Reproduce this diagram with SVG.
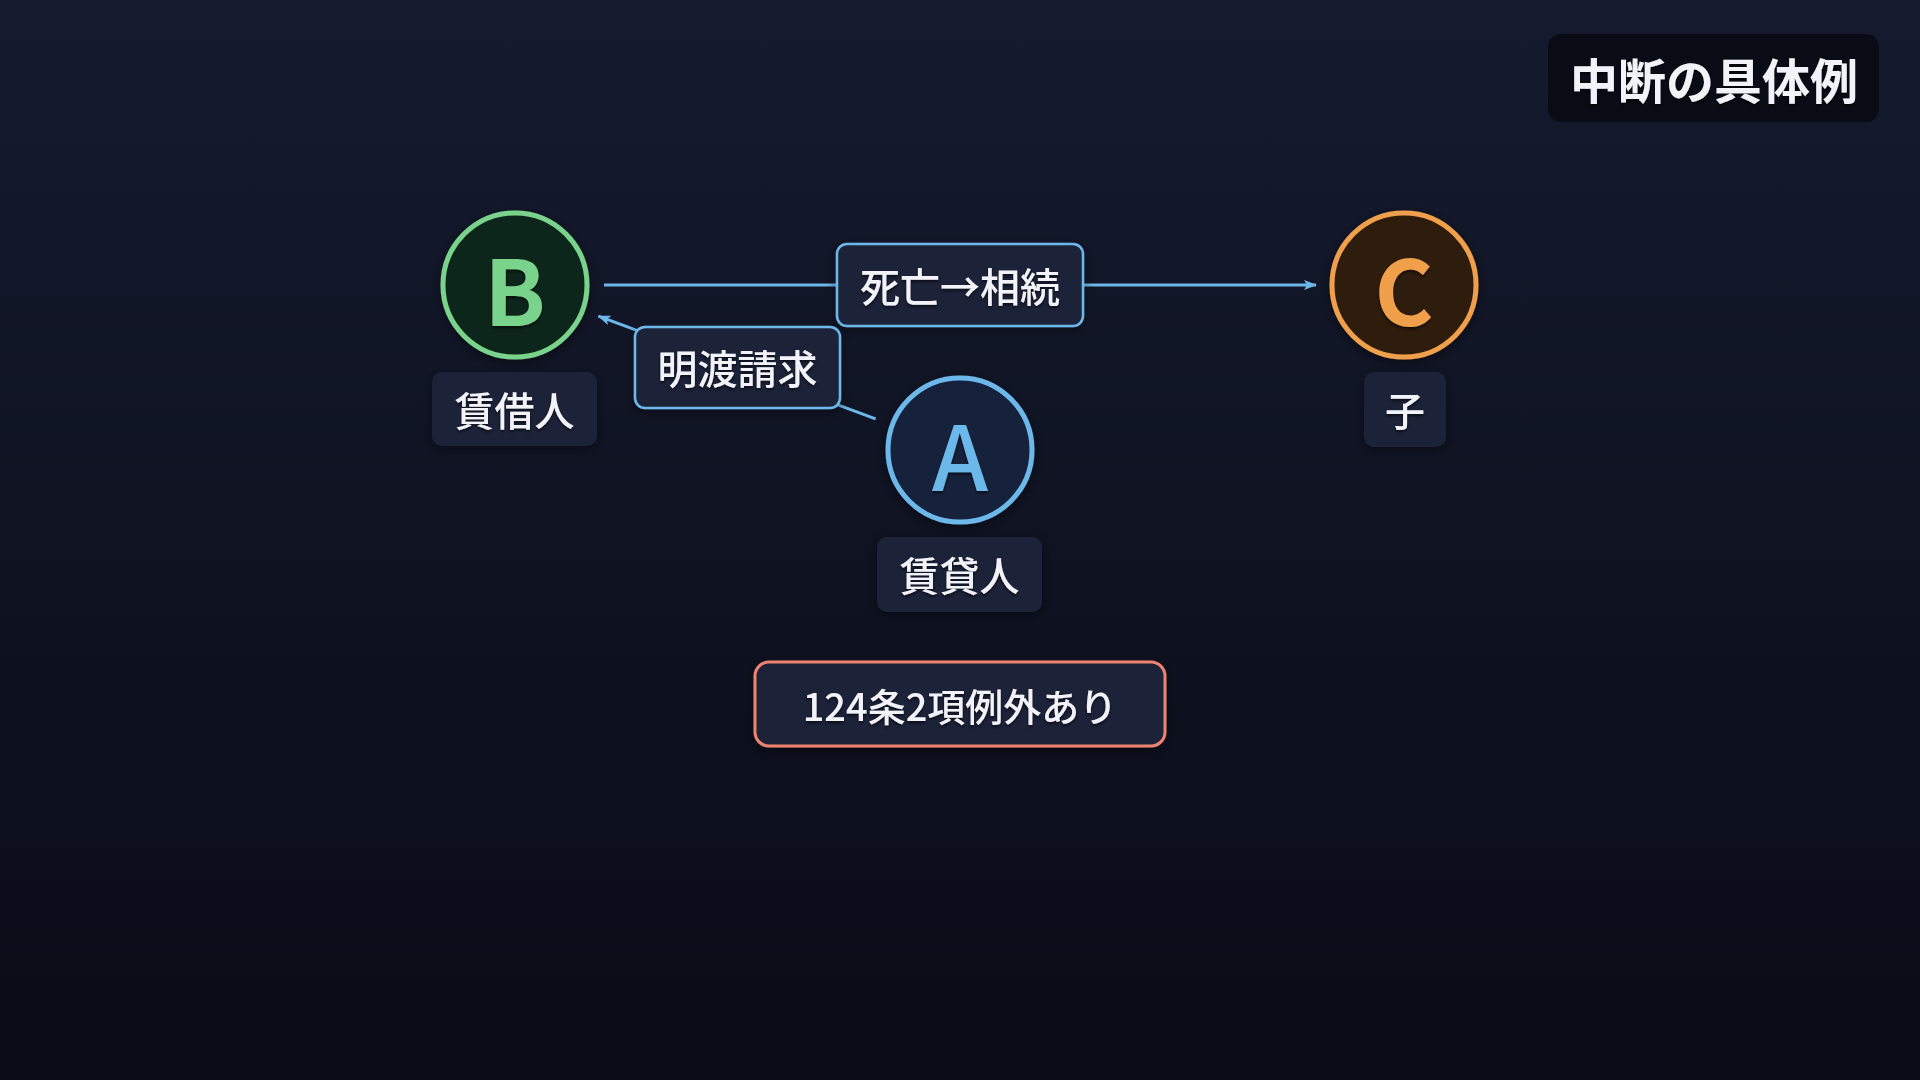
<svg xmlns="http://www.w3.org/2000/svg" width="1920" height="1080" viewBox="0 0 1920 1080">
  <defs>
    <linearGradient id="bg" x1="0" y1="0" x2="0" y2="1">
      <stop offset="0" stop-color="#151a2e"/>
      <stop offset="1" stop-color="#090c16"/>
    </linearGradient>
    <filter id="shadow" x="-30%" y="-30%" width="160%" height="160%">
      <feDropShadow dx="0" dy="3" stdDeviation="6" flood-color="#000" flood-opacity="0.45"/>
    </filter>
    <filter id="tshadow" x="-10%" y="-20%" width="120%" height="140%">
      <feDropShadow dx="0" dy="2" stdDeviation="1.5" flood-color="#000" flood-opacity="0.6"/>
    </filter>
    <marker id="arrow" markerUnits="userSpaceOnUse" markerWidth="14" markerHeight="12" refX="12" refY="5" orient="auto">
      <path d="M0,0 L13,5 L0,10 L3,5 Z" fill="#6cb8ea"/>
    </marker>
  </defs>
  <style>
    text { font-family: "Noto Sans CJK JP", "Noto Sans", sans-serif; text-anchor: middle; dominant-baseline: central; }
    .lbl { font-size: 40px; font-weight: 500; fill: #f2f3f8; filter: url(#tshadow); }
    .letter { font-size: 90px; font-weight: 700; filter: url(#tshadow); }
    .tag { fill: #1f2437; }
    .edgebox { fill: #1f2437; stroke: #6cb8ea; stroke-width: 2.5; }
    .edge { stroke: #6cb8ea; stroke-width: 3; fill: none; }
  </style>
  <rect x="0" y="0" width="1920" height="1080" fill="url(#bg)"/>

  <g id="title">
    <rect x="1548" y="34" width="331" height="88" rx="13" fill="#0a0c15"/>
    <text x="1714" y="78" class="lbl" style="font-size:48px;font-weight:700">中断の具体例</text>
  </g>

  <g id="connectors">
    <line class="edge" x1="604" y1="285" x2="1316" y2="285" marker-end="url(#arrow)"/>
    <line class="edge" x1="875.6" y1="418.8" x2="598.4" y2="316.2" marker-end="url(#arrow)"/>
    <g id="edge-label-inherit">
      <rect class="edgebox" x="837" y="244" width="246" height="82" rx="10" filter="url(#shadow)"/>
      <text x="960" y="285" class="lbl">死亡→相続</text>
    </g>
    <g id="edge-label-claim">
      <rect class="edgebox" x="635" y="327" width="205" height="81" rx="10" filter="url(#shadow)"/>
      <text x="737.5" y="367" class="lbl">明渡請求</text>
    </g>
  </g>

  <g id="node-B">
    <circle cx="515" cy="285" r="72" fill="#10261a" stroke="#7ad38a" stroke-width="5" filter="url(#shadow)"/>
    <text x="515" y="287" class="letter" fill="#7ad38a">B</text>
    <rect class="tag" x="432" y="372" width="165" height="74" rx="10" filter="url(#shadow)"/>
    <text x="514.5" y="409" class="lbl">賃借人</text>
  </g>

  <g id="node-A">
    <circle cx="960" cy="450" r="72" fill="#12223b" stroke="#6cb8ea" stroke-width="5" filter="url(#shadow)"/>
    <text x="960" y="452" class="letter" fill="#6cb8ea" style="font-weight:500">A</text>
    <rect class="tag" x="877" y="537" width="165" height="75" rx="10" filter="url(#shadow)"/>
    <text x="959.5" y="574" class="lbl">賃貸人</text>
  </g>

  <g id="node-C">
    <circle cx="1404" cy="285" r="72" fill="#2d1f10" stroke="#f0a04b" stroke-width="5" filter="url(#shadow)"/>
    <text x="1404" y="287" class="letter" fill="#f0a04b">C</text>
    <rect class="tag" x="1364" y="372" width="82" height="75" rx="10" filter="url(#shadow)"/>
    <text x="1405" y="409" class="lbl">子</text>
  </g>

  <g id="note">
    <rect x="755" y="662" width="410" height="84" rx="14" fill="#1f2437" stroke="#ee8270" stroke-width="3" filter="url(#shadow)"/>
    <text x="960" y="704" class="lbl" style="font-size:38px">124条2項例外あり</text>
  </g>
</svg>
